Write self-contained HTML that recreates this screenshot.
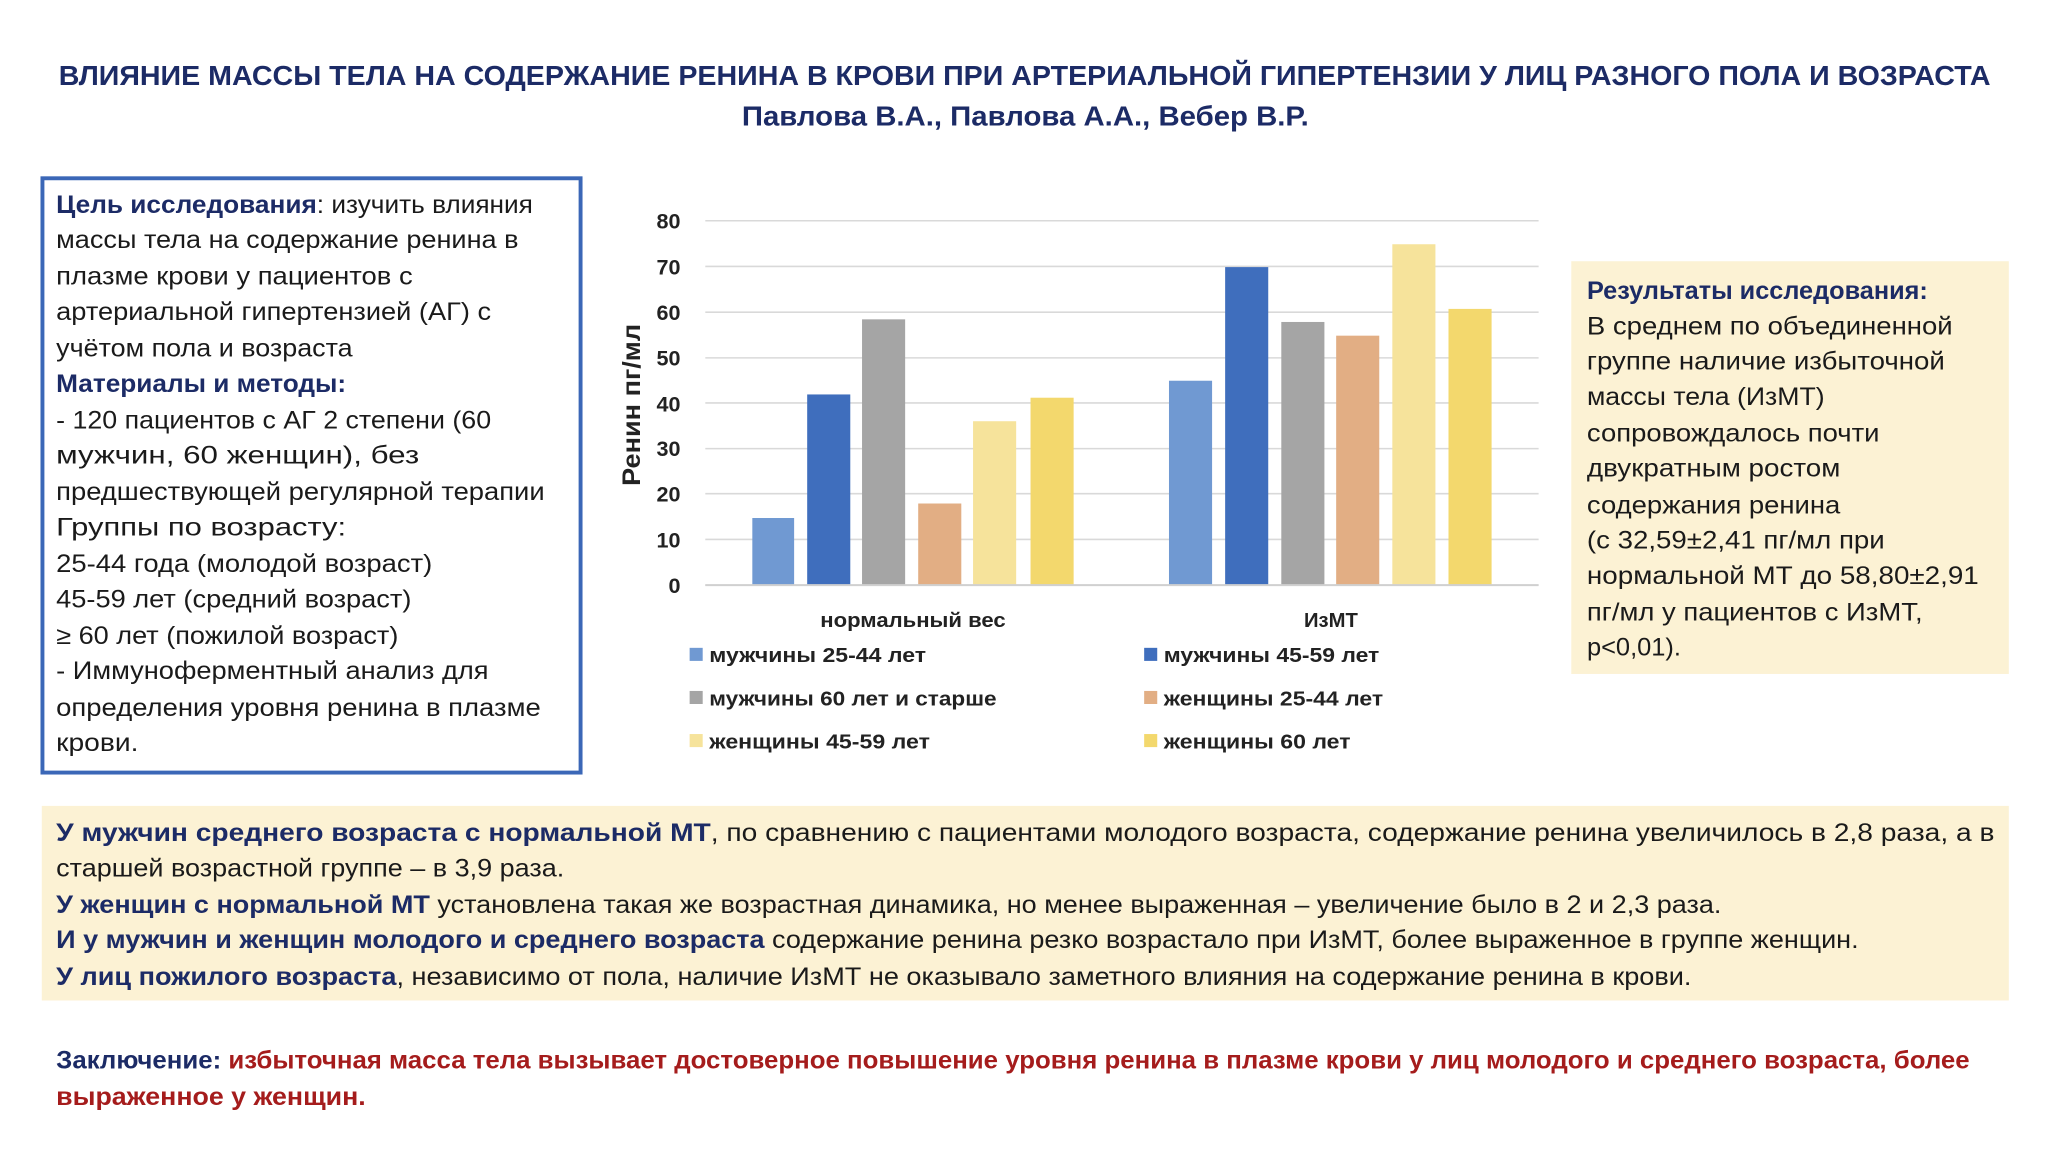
<!DOCTYPE html>
<html><head><meta charset="utf-8"><style>
html,body{margin:0;padding:0;background:#fff;width:2048px;height:1152px;overflow:hidden}
svg{display:block}
text{font-family:"Liberation Sans","DejaVu Sans",sans-serif}
.b{font-size:19px;fill:#1a1a1a}
.n{font-weight:bold;fill:#1c2b66}
.t{font-size:21px;font-weight:bold;fill:#1c2b66}
.ax{font-size:16.5px;font-weight:bold;fill:#222}
.lg{font-size:15.5px;font-weight:bold;fill:#222}
.r{font-weight:bold;fill:#a51c1c}
</style></head><body>
<svg width="2048" height="1152" viewBox="0 0 1568 882" xmlns="http://www.w3.org/2000/svg">
<text class="t" x="45" y="65" textLength="1479" lengthAdjust="spacingAndGlyphs">ВЛИЯНИЕ МАССЫ ТЕЛА НА СОДЕРЖАНИЕ РЕНИНА В КРОВИ ПРИ АРТЕРИАЛЬНОЙ ГИПЕРТЕНЗИИ У ЛИЦ РАЗНОГО ПОЛА И ВОЗРАСТА</text>
<text class="t" x="568" y="96" textLength="434" lengthAdjust="spacingAndGlyphs">Павлова В.А., Павлова А.А., Вебер В.Р.</text>

<rect x="32.5" y="136.5" width="412" height="455" fill="#fff" stroke="#3b67b7" stroke-width="3"/>
<g class="b">
<text x="43" y="163" textLength="365" lengthAdjust="spacingAndGlyphs"><tspan class="n">Цель исследования</tspan>: изучить влияния</text>
<text x="43" y="190" textLength="354" lengthAdjust="spacingAndGlyphs">массы тела на содержание ренина в</text>
<text x="43" y="218" textLength="273" lengthAdjust="spacingAndGlyphs">плазме крови у пациентов с</text>
<text x="43" y="245" textLength="333" lengthAdjust="spacingAndGlyphs">артериальной гипертензией (АГ) с</text>
<text x="43" y="273" textLength="227" lengthAdjust="spacingAndGlyphs">учётом пола и возраста</text>
<text x="43" y="300" textLength="222" lengthAdjust="spacingAndGlyphs" class="n">Материалы и методы:</text>
<text x="43" y="328" textLength="333" lengthAdjust="spacingAndGlyphs">- 120 пациентов с АГ 2 степени (60</text>
<text x="43" y="355" textLength="278" lengthAdjust="spacingAndGlyphs">мужчин, 60 женщин), без</text>
<text x="43" y="383" textLength="374" lengthAdjust="spacingAndGlyphs">предшествующей регулярной терапии</text>
<text x="43" y="410" textLength="222" lengthAdjust="spacingAndGlyphs">Группы по возрасту:</text>
<text x="43" y="438" textLength="288" lengthAdjust="spacingAndGlyphs">25-44 года (молодой возраст)</text>
<text x="43" y="465" textLength="272" lengthAdjust="spacingAndGlyphs">45-59 лет (средний возраст)</text>
<text x="43" y="493" textLength="262" lengthAdjust="spacingAndGlyphs">≥ 60 лет (пожилой возраст)</text>
<text x="43" y="520" textLength="331" lengthAdjust="spacingAndGlyphs">- Иммуноферментный анализ для</text>
<text x="43" y="548" textLength="371" lengthAdjust="spacingAndGlyphs">определения уровня ренина в плазме</text>
<text x="43" y="575" textLength="63" lengthAdjust="spacingAndGlyphs">крови.</text>
</g>

<!-- chart -->
<g stroke="#d9d9d9" stroke-width="1.2">
<line x1="540" x2="1178" y1="169" y2="169"/><line x1="540" x2="1178" y1="204" y2="204"/>
<line x1="540" x2="1178" y1="239" y2="239"/><line x1="540" x2="1178" y1="274" y2="274"/>
<line x1="540" x2="1178" y1="308.5" y2="308.5"/><line x1="540" x2="1178" y1="343.5" y2="343.5"/>
<line x1="540" x2="1178" y1="378" y2="378"/><line x1="540" x2="1178" y1="413" y2="413"/>
<line x1="540" x2="1178" y1="448" y2="448"/>
</g>
<g class="ax" text-anchor="end">
<text x="521" y="175">80</text><text x="521" y="210">70</text><text x="521" y="245">60</text>
<text x="521" y="280">50</text><text x="521" y="315">40</text><text x="521" y="349">30</text>
<text x="521" y="384">20</text><text x="521" y="419">10</text><text x="521" y="454">0</text>
</g>
<text transform="translate(490,310) rotate(-90)" text-anchor="middle" textLength="124" lengthAdjust="spacingAndGlyphs" style="font-size:19px;font-weight:bold;fill:#222">Ренин пг/мл</text>
<g>
<rect x="576" y="396.6" width="32" height="51.4" fill="#7099d2"/>
<rect x="618" y="302" width="33" height="146" fill="#3f6ebd"/>
<rect x="660" y="244.5" width="33" height="203.5" fill="#a5a5a5"/>
<rect x="703" y="385.5" width="33" height="62.5" fill="#e2ae84"/>
<rect x="745" y="322.5" width="33" height="125.5" fill="#f6e39b"/>
<rect x="789" y="304.5" width="33" height="143.5" fill="#f3d86d"/>
<rect x="895" y="291.5" width="33" height="156.5" fill="#7099d2"/>
<rect x="938" y="204.5" width="33" height="243.5" fill="#3f6ebd"/>
<rect x="981" y="246.5" width="33" height="201.5" fill="#a5a5a5"/>
<rect x="1023" y="257" width="33" height="191" fill="#e2ae84"/>
<rect x="1066" y="187" width="33" height="261" fill="#f6e39b"/>
<rect x="1109" y="236.5" width="33" height="211.5" fill="#f3d86d"/>
</g>
<line x1="540" x2="1178" y1="448" y2="448" stroke="#d0d0d0" stroke-width="1.5"/>
<g class="lg">
<text x="699" y="480" text-anchor="middle" textLength="142" lengthAdjust="spacingAndGlyphs">нормальный вес</text>
<text x="1019" y="480" text-anchor="middle">ИзМТ</text>
<rect x="528" y="496" width="10" height="10" fill="#7099d2"/><text x="543" y="507" textLength="166" lengthAdjust="spacingAndGlyphs">мужчины 25-44 лет</text>
<rect x="876" y="496" width="10" height="10" fill="#3f6ebd"/><text x="891" y="507" textLength="165" lengthAdjust="spacingAndGlyphs">мужчины 45-59 лет</text>
<rect x="528" y="529" width="10" height="10" fill="#a5a5a5"/><text x="543" y="540" textLength="220" lengthAdjust="spacingAndGlyphs">мужчины 60 лет и старше</text>
<rect x="876" y="529" width="10" height="10" fill="#e2ae84"/><text x="891" y="540" textLength="168" lengthAdjust="spacingAndGlyphs">женщины 25-44 лет</text>
<rect x="528" y="562" width="10" height="10" fill="#f6e39b"/><text x="543" y="573" textLength="169" lengthAdjust="spacingAndGlyphs">женщины 45-59 лет</text>
<rect x="876" y="562" width="10" height="10" fill="#f3d86d"/><text x="891" y="573" textLength="143" lengthAdjust="spacingAndGlyphs">женщины 60 лет</text>
</g>

<rect x="1203" y="200" width="335" height="316" fill="#fcf2d4"/>
<g class="b">
<text x="1215" y="229" textLength="261" lengthAdjust="spacingAndGlyphs" class="n">Результаты исследования:</text>
<text x="1215" y="256" textLength="280" lengthAdjust="spacingAndGlyphs">В среднем по объединенной</text>
<text x="1215" y="283" textLength="274" lengthAdjust="spacingAndGlyphs">группе наличие избыточной</text>
<text x="1215" y="310" textLength="182" lengthAdjust="spacingAndGlyphs">массы тела (ИзМТ)</text>
<text x="1215" y="338" textLength="224" lengthAdjust="spacingAndGlyphs">сопровождалось почти</text>
<text x="1215" y="365" textLength="194" lengthAdjust="spacingAndGlyphs">двукратным ростом</text>
<text x="1215" y="393" textLength="194" lengthAdjust="spacingAndGlyphs">содержания ренина</text>
<text x="1215" y="420" textLength="228" lengthAdjust="spacingAndGlyphs">(с 32,59±2,41 пг/мл при</text>
<text x="1215" y="447" textLength="300" lengthAdjust="spacingAndGlyphs">нормальной МТ  до 58,80±2,91</text>
<text x="1215" y="475" textLength="257" lengthAdjust="spacingAndGlyphs">пг/мл у пациентов с ИзМТ,</text>
<text x="1215" y="502" textLength="72" lengthAdjust="spacingAndGlyphs">р&lt;0,01).</text>
</g>

<rect x="32" y="617" width="1506" height="149" fill="#fcf2d4"/>
<g class="b">
<text x="43" y="644" textLength="1484" lengthAdjust="spacingAndGlyphs"><tspan class="n">У мужчин среднего возраста с нормальной МТ</tspan>, по сравнению с пациентами молодого возраста, содержание ренина увеличилось в 2,8 раза, а в</text>
<text x="43" y="671" textLength="389" lengthAdjust="spacingAndGlyphs">старшей возрастной группе – в 3,9 раза.</text>
<text x="43" y="699" textLength="1275" lengthAdjust="spacingAndGlyphs"><tspan class="n">У женщин с нормальной МТ</tspan> установлена такая же возрастная динамика, но менее выраженная – увеличение было в 2 и 2,3 раза.</text>
<text x="43" y="726" textLength="1380" lengthAdjust="spacingAndGlyphs"><tspan class="n">И у мужчин и женщин молодого и среднего возраста</tspan> содержание ренина резко возрастало при ИзМТ, более выраженное в группе женщин.</text>
<text x="43" y="754" textLength="1252" lengthAdjust="spacingAndGlyphs"><tspan class="n">У лиц пожилого возраста</tspan>, независимо от пола, наличие ИзМТ не оказывало заметного влияния на содержание ренина в крови.</text>
</g>
<g class="b">
<text x="43" y="818" textLength="1465" lengthAdjust="spacingAndGlyphs"><tspan class="n">Заключение: </tspan><tspan class="r">избыточная масса тела вызывает достоверное повышение уровня ренина в плазме крови у лиц молодого и среднего возраста, более</tspan></text>
<text x="43" y="846" textLength="237" lengthAdjust="spacingAndGlyphs" class="r">выраженное у женщин.</text>
</g>
</svg>
</body></html>
